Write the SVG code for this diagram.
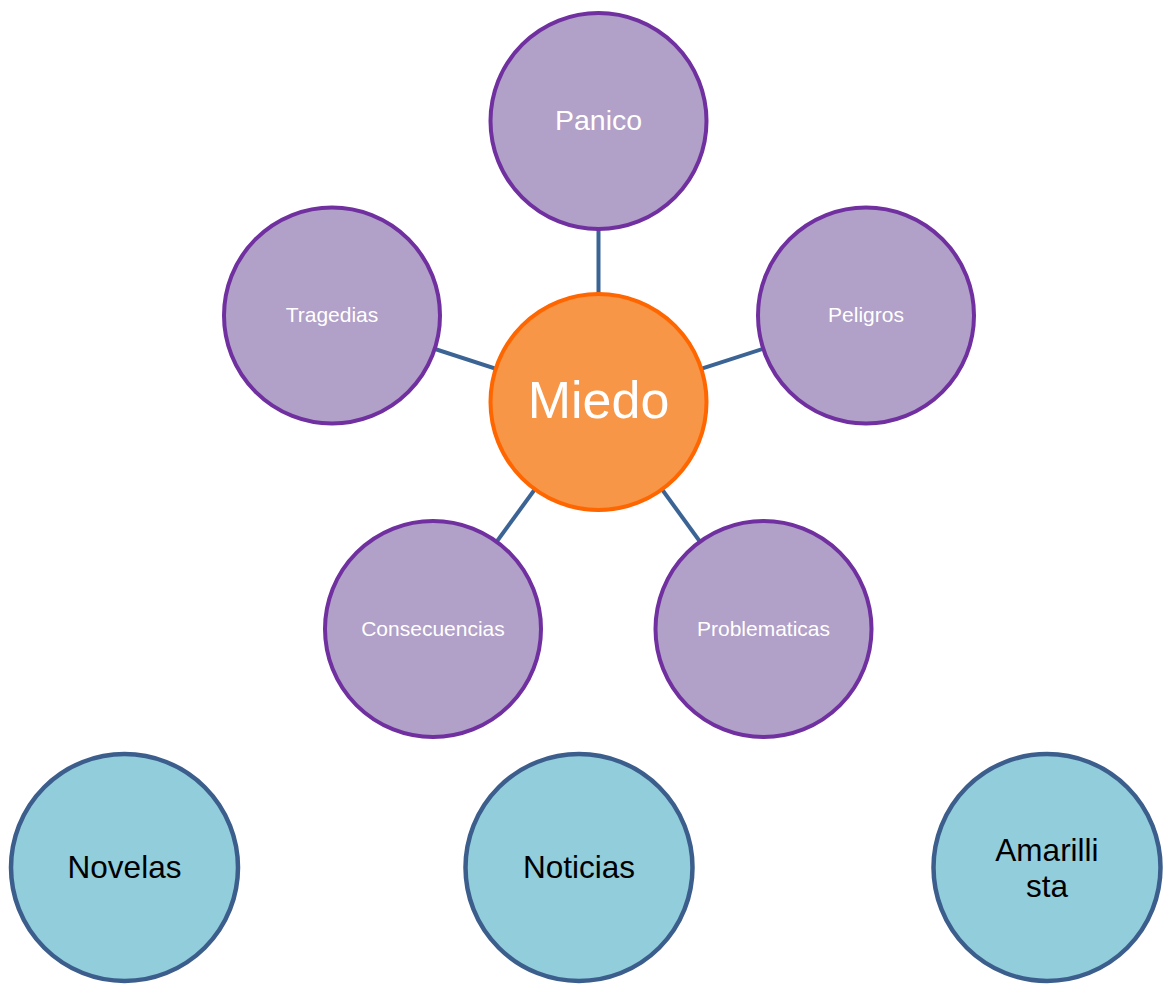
<svg xmlns="http://www.w3.org/2000/svg" width="1166" height="984" viewBox="0 0 1166 984">
<style>
.p{fill:#B1A0C7;stroke:#7030A0;stroke-width:4}
.o{fill:#F79646;stroke:#FF6600;stroke-width:4}
.b{fill:#92CDDC;stroke:#3B5E8C;stroke-width:4.5}
.c{stroke:#3B6495;stroke-width:4;fill:none}
text{font-family:"Liberation Sans",Arial,sans-serif;text-anchor:middle}
.w{fill:#FFFFFF}
.k{fill:#000000;font-size:31.5px}
</style>
<rect width="1166" height="984" fill="#FFFFFF"/>
<g id="connectors">
<line class="c" x1="598.5" y1="402" x2="598.5" y2="121"/>
<line class="c" x1="598.5" y1="402" x2="332" y2="315.5"/>
<line class="c" x1="598.5" y1="402" x2="866" y2="315.5"/>
<line class="c" x1="598.5" y1="402" x2="433" y2="629"/>
<line class="c" x1="598.5" y1="402" x2="763.5" y2="629"/>
</g>
<g id="panico"><circle class="p" cx="598.5" cy="121" r="108"/><text class="w" x="598.5" y="130" font-size="28.5">Panico</text></g>
<g id="tragedias"><circle class="p" cx="332" cy="315.5" r="108"/><text class="w" x="332" y="322" font-size="21">Tragedias</text></g>
<g id="peligros"><circle class="p" cx="866" cy="315.5" r="108"/><text class="w" x="866" y="322" font-size="21">Peligros</text></g>
<g id="consecuencias"><circle class="p" cx="433" cy="629" r="108"/><text class="w" x="433" y="636" font-size="21">Consecuencias</text></g>
<g id="problematicas"><circle class="p" cx="763.5" cy="629" r="108"/><text class="w" x="763.5" y="636" font-size="21">Problematicas</text></g>
<g id="miedo"><circle class="o" cx="598.5" cy="402" r="108"/><text class="w" x="598.5" y="418" font-size="52">Miedo</text></g>
<g id="novelas"><circle class="b" cx="124.5" cy="867.5" r="113.5"/><text class="k" x="124.5" y="878">Novelas</text></g>
<g id="noticias"><circle class="b" cx="579" cy="867.5" r="113.5"/><text class="k" x="579" y="878">Noticias</text></g>
<g id="amarillista"><circle class="b" cx="1047" cy="867.5" r="113.5"/><text class="k" x="1047" y="861">Amarilli</text><text class="k" x="1047" y="897">sta</text></g>
</svg>
